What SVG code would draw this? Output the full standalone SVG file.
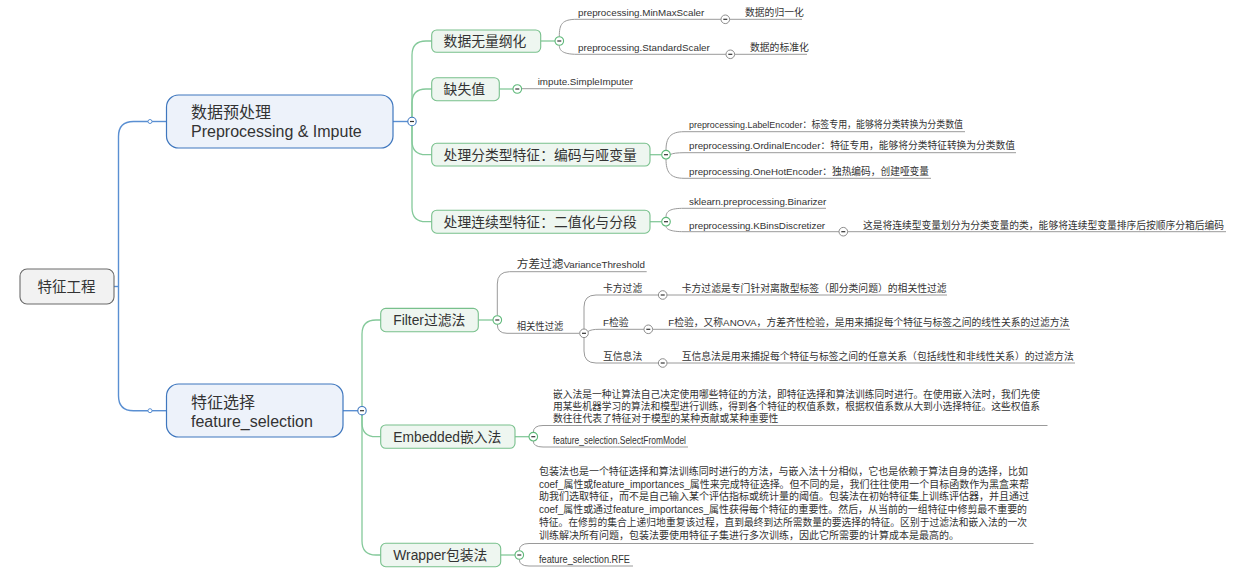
<svg xmlns="http://www.w3.org/2000/svg" width="1247" height="577" viewBox="0 0 1247 577">
<style>
text{font-family:"Liberation Sans","Noto Sans CJK SC",sans-serif;fill:#333}
.t0{font-size:14.5px;text-anchor:middle}
.t1{font-size:16px}
.t2{font-size:13.8px}
.t3{font-size:9.8px}
.t4{font-size:10px}
.big{font-size:11.7px}
.lb{fill:none;stroke:#5a8fd2;stroke-width:1.4}
.lg{fill:none;stroke:#84c99a;stroke-width:1.3}
.ly{fill:none;stroke:#9a9a9a;stroke-width:1}
.root{fill:#f2f2f2;stroke:#6b6b6b;stroke-width:1.1}
.n1{fill:#edf2fa;stroke:#3f77be;stroke-width:1.2}
.n2{fill:#eef6f0;stroke:#78c08c;stroke-width:1.1}
.cb{fill:#fff;stroke:#3f77be;stroke-width:1.1}
.cg{fill:#fff;stroke:#5fb97a;stroke-width:1.1}
.cy{fill:#fff;stroke:#8c8c8c;stroke-width:1}
.dot{fill:#fff;stroke:#5a8fd2;stroke-width:1}
.minus{stroke:#333;stroke-width:1.2}
</style>
<defs>
<g id="mn"><line class="minus" x1="-2" y1="0" x2="2" y2="0"/></g>
</defs>
<rect width="1247" height="577" fill="#fff"/>

<g id="connectors">
  <path class="lb" d="M114,286.5 H118.5"/>
  <path class="lb" d="M148,121.5 H133.5 Q118.5,121.5 118.5,136.5 V395.7 Q118.5,410.7 133.5,410.7 H148"/>
  <path class="lb" d="M152,121.5 H166.5"/>
  <path class="lb" d="M152,410.7 H166.5"/>
  <path class="lb" d="M393,121.5 H408"/>
  <path class="lb" d="M343,410.7 H358"/>

  <path class="lg" d="M412,117.5 V55 Q412,41 426,41 H432"/>
  <path class="lg" d="M412,117.5 V103 Q412,89 426,89 H432"/>
  <path class="lg" d="M412,125.5 V140.7 Q412,154.7 426,154.7 H432"/>
  <path class="lg" d="M412,125.5 V207.7 Q412,221.7 426,221.7 H432"/>
  <path class="lg" d="M540.7,41 H555"/>
  <path class="lg" d="M499.3,89 H513"/>
  <path class="lg" d="M650,154.7 H661.7"/>
  <path class="lg" d="M650,221.7 H661.7"/>

  <path class="lg" d="M362,406.5 V334 Q362,320 376,320 H381"/>
  <path class="lg" d="M362,415 V422.7 Q362,436.7 376,436.7 H381"/>
  <path class="lg" d="M362,415 V541 Q362,555 376,555 H381"/>
  <path class="lg" d="M478.3,320 H493"/>
  <path class="lg" d="M515,436.7 H529"/>
  <path class="lg" d="M500.7,555 H515"/>

  <path class="ly" d="M559.3,36.7 C559.3,24 562,19.3 577,19.3 H721"/>
  <path class="ly" d="M729.6,19.3 H802"/>
  <path class="ly" d="M559.3,45.3 C559.3,50 562,54.3 577,54.3 H726"/>
  <path class="ly" d="M734.6,54.3 H807"/>
  <path class="ly" d="M521.6,88.7 H633"/>
  <path class="ly" d="M666,150.4 C666,138 670,131.7 684,131.7 H965"/>
  <path class="ly" d="M670.3,154.5 Q674,152.7 684,152.7 H1016"/>
  <path class="ly" d="M666,159 C666,172 670,178.3 684,178.3 H931"/>
  <path class="ly" d="M666,217.4 C666,211 670,208.3 684,208.3 H826"/>
  <path class="ly" d="M666,226 C666,229 670,231.7 684,231.7 H839"/>
  <path class="ly" d="M847.6,231.7 H1226"/>

  <path class="ly" d="M497.3,315.7 V284 Q497.3,271.7 509.5,271.7 H646.7"/>
  <path class="ly" d="M497.3,324.3 Q497.3,333.3 507,333.3 H579.7"/>
  <path class="ly" d="M584,329 V307 Q584,295 596,295 H658.4"/>
  <path class="ly" d="M667,295 H947"/>
  <path class="ly" d="M588,331.5 Q591,329.3 599,329.3 H644"/>
  <path class="ly" d="M652.6,329.3 H1070"/>
  <path class="ly" d="M584,337.6 V351 Q584,363 596,363 H658.4"/>
  <path class="ly" d="M667,363 H1075"/>

  <path class="ly" d="M533.3,432.4 Q533.3,425.5 543,425.5 H1047.5"/>
  <path class="ly" d="M533.3,441 Q533.3,447 543,447 H688"/>
  <path class="ly" d="M519.3,550.7 Q519.3,543.5 529,543.5 H1033.5"/>
  <path class="ly" d="M519.3,559.3 Q519.3,566 529,566 H633"/>
</g>

<g id="toggles">
  <circle class="dot" cx="150" cy="121.5" r="2"/>
  <circle class="dot" cx="150" cy="410.7" r="2"/>
  <g transform="translate(412,121.5)"><circle class="cb" r="4.2"/><use href="#mn"/></g>
  <g transform="translate(362,410.7)"><circle class="cb" r="4.2"/><use href="#mn"/></g>
  <g transform="translate(559.3,41)"><circle class="cg" r="4.3"/><use href="#mn"/></g>
  <g transform="translate(517.3,89)"><circle class="cg" r="4.3"/><use href="#mn"/></g>
  <g transform="translate(666,154.7)"><circle class="cg" r="4.3"/><use href="#mn"/></g>
  <g transform="translate(666,221.7)"><circle class="cg" r="4.3"/><use href="#mn"/></g>
  <g transform="translate(497.3,320)"><circle class="cg" r="4.3"/><use href="#mn"/></g>
  <g transform="translate(533.3,436.7)"><circle class="cg" r="4.3"/><use href="#mn"/></g>
  <g transform="translate(519.3,555)"><circle class="cg" r="4.3"/><use href="#mn"/></g>
  <g transform="translate(725.3,19.3)"><circle class="cy" r="4.3"/><use href="#mn"/></g>
  <g transform="translate(730.3,54.3)"><circle class="cy" r="4.3"/><use href="#mn"/></g>
  <g transform="translate(843.3,231.7)"><circle class="cy" r="4.3"/><use href="#mn"/></g>
  <g transform="translate(584,333.3)"><circle class="cy" r="4.3"/><use href="#mn"/></g>
  <g transform="translate(662.7,295)"><circle class="cy" r="4.3"/><use href="#mn"/></g>
  <g transform="translate(648.3,329.3)"><circle class="cy" r="4.3"/><use href="#mn"/></g>
  <g transform="translate(662.7,363)"><circle class="cy" r="4.3"/><use href="#mn"/></g>
</g>

<g id="root">
  <rect class="root" x="20" y="269" width="94" height="35" rx="7"/>
  <text class="t0" x="66.5" y="291.5">特征工程</text>
</g>

<g id="n-preprocess">
  <rect class="n1" x="166.5" y="95" width="226.5" height="53" rx="12"/>
  <text class="t1" x="191" y="118.3">数据预处理</text>
  <text class="t1" x="191" y="137.3">Preprocessing &amp; Impute</text>
</g>
<g id="n-select">
  <rect class="n1" x="166.5" y="384" width="176.5" height="53" rx="12"/>
  <text class="t1" x="191" y="407.8">特征选择</text>
  <text class="t1" x="191" y="426.5">feature_selection</text>
</g>

<g id="n-scale">
  <rect class="n2" x="431.7" y="30" width="109" height="22.3" rx="5"/>
  <text class="t2" x="443.6" y="45.9">数据无量纲化</text>
</g>
<g id="n-missing">
  <rect class="n2" x="431.7" y="77.7" width="67.6" height="23" rx="5"/>
  <text class="t2" x="443.6" y="94">缺失值</text>
</g>
<g id="n-category">
  <rect class="n2" x="431.7" y="143.3" width="218.3" height="22.7" rx="5"/>
  <text class="t2" x="443.6" y="159.6">处理分类型特征：编码与哑变量</text>
</g>
<g id="n-continuous">
  <rect class="n2" x="431.7" y="210.2" width="218.3" height="23" rx="5"/>
  <text class="t2" x="443.6" y="226.6">处理连续型特征：二值化与分段</text>
</g>
<g id="n-filter">
  <rect class="n2" x="380.7" y="308.4" width="97.6" height="23.3" rx="5"/>
  <text class="t2" x="393.3" y="324.9">Filter过滤法</text>
</g>
<g id="n-embedded">
  <rect class="n2" x="380.7" y="425" width="134.3" height="23.3" rx="5"/>
  <text class="t2" x="393.3" y="441.6">Embedded嵌入法</text>
</g>
<g id="n-wrapper">
  <rect class="n2" x="380.7" y="543.3" width="120" height="23.4" rx="5"/>
  <text class="t2" x="393.3" y="559.9">Wrapper包装法</text>
</g>

<g id="l-minmax"><text class="t3" x="578" y="16">preprocessing.MinMaxScaler</text></g>
<g id="l-minmax-desc"><text class="t3" x="745" y="16">数据的归一化</text></g>
<g id="l-standard"><text class="t3" x="578" y="51">preprocessing.StandardScaler</text></g>
<g id="l-standard-desc"><text class="t3" x="750" y="51">数据的标准化</text></g>
<g id="l-imputer"><text class="t3" x="537.7" y="85.3">impute.SimpleImputer</text></g>
<g id="l-label"><text class="t3" x="689" y="128.3" textLength="274" lengthAdjust="spacingAndGlyphs">preprocessing.LabelEncoder：标签专用，能够将分类转换为分类数值</text></g>
<g id="l-ordinal"><text class="t3" x="689" y="149.3" textLength="326" lengthAdjust="spacingAndGlyphs">preprocessing.OrdinalEncoder：特征专用，能够将分类特征转换为分类数值</text></g>
<g id="l-onehot"><text class="t3" x="689" y="175" textLength="240" lengthAdjust="spacingAndGlyphs">preprocessing.OneHotEncoder：独热编码，创建哑变量</text></g>
<g id="l-binarizer"><text class="t3" x="689" y="205">sklearn.preprocessing.Binarizer</text></g>
<g id="l-kbins"><text class="t3" x="689" y="228.5">preprocessing.KBinsDiscretizer</text></g>
<g id="l-kbins-desc"><text class="t3" x="863" y="228.5" textLength="361" lengthAdjust="spacingAndGlyphs">这是将连续型变量划分为分类变量的类，能够将连续型变量排序后按顺序分箱后编码</text></g>

<g id="l-variance"><text x="516.7" y="268.3"><tspan class="big">方差过滤</tspan><tspan class="t3">VarianceThreshold</tspan></text></g>
<g id="l-correlation"><text class="t3" x="516.7" y="330" textLength="46.7" lengthAdjust="spacingAndGlyphs">相关性过滤</text></g>
<g id="l-chi2"><text class="t3" x="603" y="291.5">卡方过滤</text></g>
<g id="l-chi2-desc"><text class="t3" x="681.7" y="291.5" textLength="265" lengthAdjust="spacingAndGlyphs">卡方过滤是专门针对离散型标签（即分类问题）的相关性过滤</text></g>
<g id="l-f"><text class="t3" x="603" y="326">F检验</text></g>
<g id="l-f-desc"><text class="t3" x="668.3" y="326" textLength="401" lengthAdjust="spacingAndGlyphs">F检验，又称ANOVA，方差齐性检验，是用来捕捉每个特征与标签之间的线性关系的过滤方法</text></g>
<g id="l-mi"><text class="t3" x="603" y="359.7">互信息法</text></g>
<g id="l-mi-desc"><text class="t3" x="681.7" y="359.7" textLength="392" lengthAdjust="spacingAndGlyphs">互信息法是用来捕捉每个特征与标签之间的任意关系（包括线性和非线性关系）的过滤方法</text></g>

<g id="l-embedded-desc">
  <text class="t3" x="553" y="397.5" textLength="487" lengthAdjust="spacingAndGlyphs">嵌入法是一种让算法自己决定使用哪些特征的方法，即特征选择和算法训练同时进行。在使用嵌入法时，我们先使</text>
  <text class="t3" x="553" y="409.7" textLength="487" lengthAdjust="spacingAndGlyphs">用某些机器学习的算法和模型进行训练，得到各个特征的权值系数，根据权值系数从大到小选择特征。这些权值系</text>
  <text class="t3" x="553" y="421.9">数往往代表了特征对于模型的某种贡献或某种重要性</text>
</g>
<g id="l-selectfrommodel"><text class="t4" x="553" y="444" textLength="133" lengthAdjust="spacingAndGlyphs">feature_selection.SelectFromModel</text></g>

<g id="l-wrapper-desc">
  <text class="t4" x="539" y="474.8" textLength="489" lengthAdjust="spacingAndGlyphs">包装法也是一个特征选择和算法训练同时进行的方法，与嵌入法十分相似，它也是依赖于算法自身的选择，比如</text>
  <text class="t4" x="539" y="487.6" textLength="490" lengthAdjust="spacingAndGlyphs">coef_属性或feature_importances_属性来完成特征选择。但不同的是，我们往往使用一个目标函数作为黑盒来帮</text>
  <text class="t4" x="539" y="500.4" textLength="490" lengthAdjust="spacingAndGlyphs">助我们选取特征，而不是自己输入某个评估指标或统计量的阈值。包装法在初始特征集上训练评估器，并且通过</text>
  <text class="t4" x="539" y="513.2" textLength="488" lengthAdjust="spacingAndGlyphs">coef_属性或通过feature_importances_属性获得每个特征的重要性。然后，从当前的一组特征中修剪最不重要的</text>
  <text class="t4" x="539" y="526" textLength="488" lengthAdjust="spacingAndGlyphs">特征。在修剪的集合上递归地重复该过程，直到最终到达所需数量的要选择的特征。区别于过滤法和嵌入法的一次</text>
  <text class="t4" x="539" y="538.8">训练解决所有问题，包装法要使用特征子集进行多次训练，因此它所需要的计算成本是最高的。</text>
</g>
<g id="l-rfe"><text class="t4" x="539" y="562.5" textLength="91" lengthAdjust="spacingAndGlyphs">feature_selection.RFE</text></g>
</svg>
